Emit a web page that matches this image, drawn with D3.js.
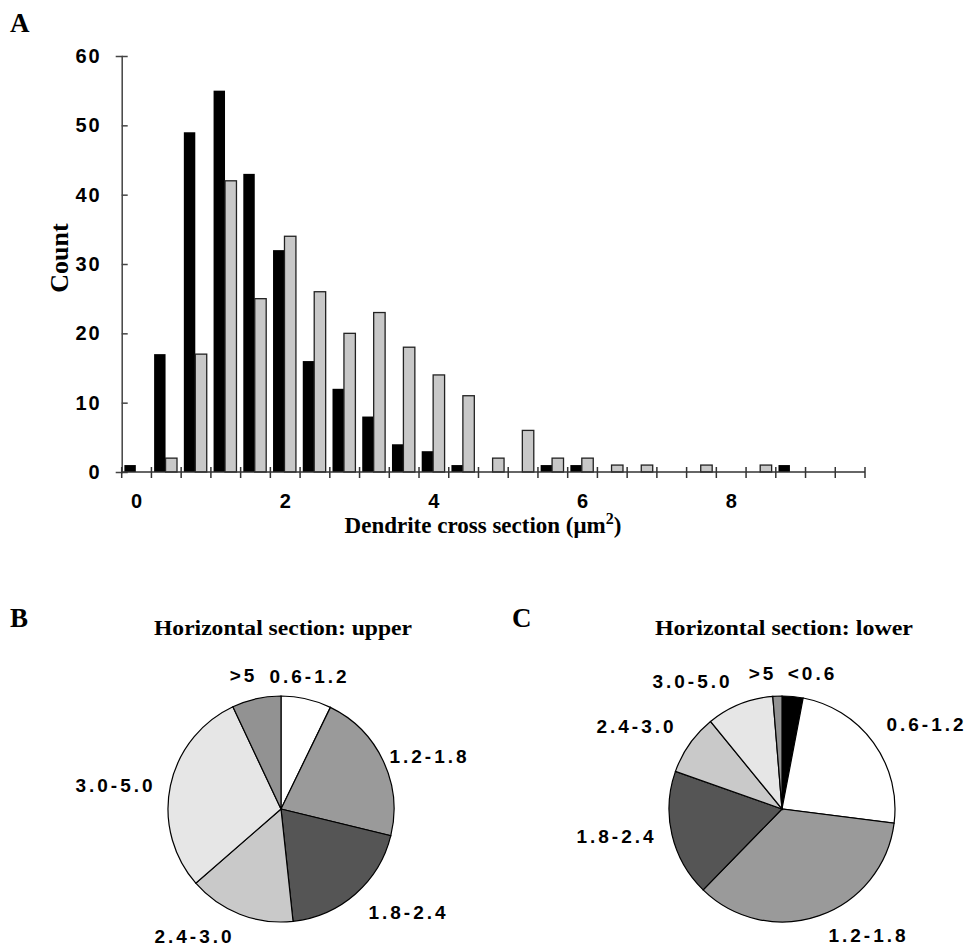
<!DOCTYPE html>
<html>
<head>
<meta charset="utf-8">
<script src="https://cdn.jsdelivr.net/npm/d3@7"></script>
<style>
  body { margin: 0; background: #fff; }
  .sans { font-family: "Liberation Sans", Arial, sans-serif; font-weight: bold; }
  .serif { font-family: "Liberation Serif", "Times New Roman", serif; font-weight: bold; }
</style>
</head>
<body>
<div id="chart"></div>
<script>
// histogram bins (um^2), 0.4 wide, only every 5th one labelled
const bins = ["0","0.4","0.8","1.2","1.6","2","2.4","2.8","3.2","3.6","4","4.4","4.8",
              "5.2","5.6","6","6.4","6.8","7.2","7.6","8","8.4","8.8","9.2","9.6"];
const binLabels = ["0","2","4","6","8"];
const countBlack = [1,17,49,55,43,32,16,12,8,4,3,1,0,0,1,1,0,0,0,0,0,0,1,0,0];
const countGray  = [0,2,17,42,25,34,26,20,23,18,14,11,2,6,2,2,1,1,0,1,0,1,0,0,0];
const countTicks = [0,10,20,30,40,50,60];

// pie B : upper
const upperCats   = ["0.6-1.2","1.2-1.8","1.8-2.4","2.4-3.0","3.0-5.0",">5"];
const upperValues = [7.2, 21.6, 19.5, 15.3, 29.4, 7.0];
// pie C : lower
const lowerCats   = ["<0.6","0.6-1.2","1.2-1.8","1.8-2.4","2.4-3.0","3.0-5.0",">5"];
const lowerValues = [3.0, 24.0, 35.3, 18.1, 8.7, 9.6, 1.3];

const sliceColor = {
  "<0.6": "#000", "0.6-1.2": "#fff", "1.2-1.8": "#9a9a9a", "1.8-2.4": "#555",
  "2.4-3.0": "#c9c9c9", "3.0-5.0": "#e6e6e6", ">5": "#929292"
};

const W = 967, H = 947;
const svg = d3.select("#chart").append("svg")
    .attr("width", W).attr("height", H);
svg.append("rect").attr("width", W).attr("height", H).attr("fill", "#fff");

// ---------- A : histogram ----------
const x = d3.scaleBand().domain(bins).range([121.7, 865]).padding(0);
const y = d3.scaleLinear().domain([0, 60]).range([472, 56]);
const bw = x.bandwidth();

svg.append("text").attr("class", "serif").attr("x", 10).attr("y", 32)
    .attr("font-size", 27).text("A");

const gBars = svg.append("g");
gBars.selectAll("rect.blk").data(bins).enter().append("rect")
    .attr("class", "blk")
    .attr("x", (d) => x(d) + bw * 0.09)
    .attr("width", bw * 0.385)
    .attr("y", (d, i) => y(countBlack[i]))
    .attr("height", (d, i) => y(0) - y(countBlack[i]))
    .attr("fill", "#000");
gBars.selectAll("rect.gry").data(bins).enter().append("rect")
    .attr("class", "gry")
    .attr("x", (d) => x(d) + bw * 0.475)
    .attr("width", bw * 0.385)
    .attr("y", (d, i) => y(countGray[i]))
    .attr("height", (d, i) => y(0) - y(countGray[i]))
    .attr("fill", (d, i) => countGray[i] > 0 ? "#c8c8c8" : "none")
    .attr("stroke", (d, i) => countGray[i] > 0 ? "#222" : "none")
    .attr("stroke-width", 1.3);

// y axis
const yAxis = svg.append("g").attr("transform", `translate(${x.range()[0]},0)`)
    .call(d3.axisLeft(y).tickValues(countTicks).tickSize(6).tickPadding(14));
yAxis.select(".domain").attr("stroke", "#444").attr("stroke-width", 1.5);
yAxis.selectAll(".tick line").attr("x2", 6).attr("stroke", "#444").attr("stroke-width", 1.5);
yAxis.selectAll(".tick text").attr("class", "sans").attr("font-size", 20)
    .attr("letter-spacing", 2).attr("fill", "#000");

// x axis: line + ticks on bin edges
const xLine = svg.append("g");
xLine.append("line").attr("x1", x.range()[0]).attr("x2", x.range()[1])
    .attr("y1", y(0)).attr("y2", y(0)).attr("stroke", "#333").attr("stroke-width", 1.5);
const edges = bins.map((d) => x(d)).concat([x.range()[1]]);
xLine.selectAll("line.edge").data(edges).enter().append("line")
    .attr("class", "edge")
    .attr("x1", (d) => d).attr("x2", (d) => d)
    .attr("y1", y(0) - 5).attr("y2", y(0) + 6)
    .attr("stroke", "#333").attr("stroke-width", 1.5);

const xAxis = svg.append("g").attr("transform", `translate(0,${y(0)})`)
    .call(d3.axisBottom(x).tickValues(binLabels).tickSize(0).tickPadding(22));
xAxis.select(".domain").remove();
xAxis.selectAll(".tick text").attr("class", "sans").attr("font-size", 20)
    .attr("fill", "#000");

svg.append("text").attr("class", "serif")
    .attr("transform", "translate(68,258) rotate(-90)")
    .attr("text-anchor", "middle").attr("font-size", 26).text("Count");

const xt = svg.append("text").attr("class", "serif")
    .attr("x", 483).attr("y", 533).attr("text-anchor", "middle").attr("font-size", 23);
xt.append("tspan").text("Dendrite cross section (\u03bcm");
xt.append("tspan").attr("font-size", 16).attr("dy", -9).text("2");
xt.append("tspan").attr("dy", 9).text(")");

// ---------- B & C : pies ----------
const pie = d3.pie().sort(null).value((d) => d.v);
const arc = d3.arc().innerRadius(0).outerRadius(113);

// label offsets from pie centre (layout only)
const upperLabelPos = [[27,-126],[147,-46],[126,110],[-88,134],[-167,-17],[-39,-127]];
const lowerLabelPos = [[29,-129],[143,-78],[85,133],[-167,34],[-147,-76],[-91,-121],[-21,-129]];

function drawPie(letter, title, cats, values, labelPos, cx, cy, letterX) {
  svg.append("text").attr("class", "serif").attr("x", letterX).attr("y", 627)
      .attr("font-size", 27).text(letter);
  svg.append("text").attr("class", "serif").attr("x", cx + 2).attr("y", 635)
      .attr("text-anchor", "middle").attr("font-size", 20)
      .attr("textLength", 258).attr("lengthAdjust", "spacingAndGlyphs")
      .text(title);

  const data = cats.map((c, i) => ({c: c, v: values[i]}));
  const g = svg.append("g").attr("transform", `translate(${cx},${cy})`);
  g.selectAll("path").data(pie(data)).enter().append("path")
      .attr("d", arc)
      .attr("fill", (d) => sliceColor[d.data.c])
      .attr("stroke", "#000").attr("stroke-width", 1.2);
  g.selectAll("text").data(data).enter().append("text")
      .attr("class", "sans")
      .attr("x", (d, i) => labelPos[i][0] + 1.5)
      .attr("y", (d, i) => labelPos[i][1])
      .attr("text-anchor", "middle")
      .attr("font-size", 19).attr("letter-spacing", 3)
      .text((d) => d.c);
}

drawPie("B", "Horizontal section: upper", upperCats, upperValues, upperLabelPos, 281, 809, 10);
drawPie("C", "Horizontal section: lower", lowerCats, lowerValues, lowerLabelPos, 782, 809, 512);
</script>
</body>
</html>
